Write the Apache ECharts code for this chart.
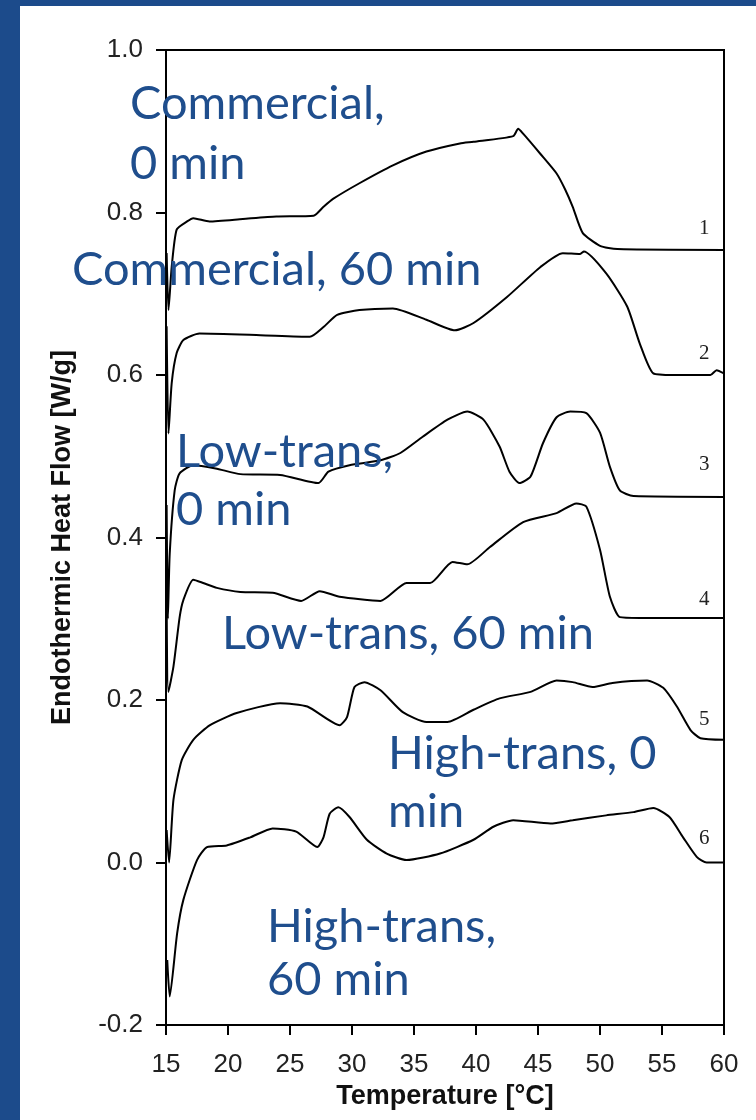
<!DOCTYPE html>
<html><head><meta charset="utf-8">
<script src="https://cdn.jsdelivr.net/npm/echarts@6/dist/echarts.min.js"></script>
<style>html,body{margin:0;padding:0;background:#fff}#c{width:756px;height:1120px}</style>
</head><body><div id="c"></div><script>
// Temperature (°C) and heat flow (W/g) for each curve
const t1 = [15.05, 15.2, 15.46, 15.86, 16.7, 17.2, 18.5, 21.2, 23.9, 26.9, 27.7, 28.5, 30.6, 33.3, 36.0, 38.7, 39.8, 43.0, 43.4, 43.8, 45.2, 46.5, 47.2, 47.8, 48.6, 50.0, 51.4, 60];
const v1 = [0.75, 0.68, 0.733, 0.779, 0.789, 0.793, 0.789, 0.792, 0.795, 0.796, 0.807, 0.817, 0.836, 0.858, 0.875, 0.885, 0.887, 0.894, 0.903, 0.897, 0.872, 0.848, 0.828, 0.807, 0.775, 0.759, 0.755, 0.754];
const t2 = [15.05, 15.2, 15.46, 15.86, 16.4, 17.7, 22.6, 26.6, 27.7, 28.8, 30.6, 33.3, 36.0, 38.3, 39.8, 42.5, 45.2, 47.0, 48.4, 48.7, 50.5, 52.2, 53.2, 54.3, 55.9, 58.9, 59.4, 60];
const v2 = [0.66, 0.528, 0.59, 0.627, 0.643, 0.651, 0.649, 0.647, 0.659, 0.674, 0.680, 0.682, 0.668, 0.655, 0.664, 0.696, 0.733, 0.750, 0.749, 0.752, 0.725, 0.684, 0.639, 0.602, 0.600, 0.600, 0.606, 0.602];
const t3 = [15.05, 15.15, 15.3, 15.7, 16.1, 17.2, 19.0, 21.0, 24.2, 27.3, 28.1, 29.8, 32.3, 33.9, 35.7, 37.7, 39.3, 40.6, 41.9, 42.7, 43.5, 44.4, 45.4, 46.5, 47.6, 48.9, 50.0, 50.8, 51.6, 52.7, 60];
const v3 = [0.44, 0.30, 0.38, 0.458, 0.479, 0.489, 0.485, 0.478, 0.477, 0.467, 0.481, 0.489, 0.495, 0.504, 0.524, 0.545, 0.555, 0.545, 0.512, 0.481, 0.467, 0.475, 0.516, 0.548, 0.555, 0.553, 0.529, 0.487, 0.458, 0.451, 0.450];
const t4 = [15.05, 15.19, 15.6, 16.1, 16.4, 17.2, 18.0, 19.1, 21.0, 23.6, 25.9, 27.4, 29.0, 32.3, 34.4, 36.3, 38.1, 39.3, 41.1, 43.8, 46.5, 48.1, 48.9, 50.0, 50.8, 51.6, 53.2, 60];
const v4 = [0.32, 0.21, 0.241, 0.302, 0.323, 0.348, 0.344, 0.338, 0.333, 0.332, 0.322, 0.334, 0.327, 0.322, 0.344, 0.344, 0.370, 0.367, 0.388, 0.419, 0.430, 0.442, 0.438, 0.385, 0.327, 0.302, 0.301, 0.301];
const t5 = [15.05, 15.25, 15.6, 16.27, 17.2, 18.55, 20.7, 24.2, 26.4, 29.0, 29.6, 30.2, 31.0, 32.3, 34.1, 36.0, 37.7, 39.8, 41.9, 44.4, 46.5, 47.8, 49.4, 51.0, 53.8, 55.1, 56.2, 57.3, 58.1, 60];
const v5 = [0.04, 0.0, 0.077, 0.126, 0.151, 0.169, 0.184, 0.196, 0.192, 0.169, 0.179, 0.216, 0.222, 0.212, 0.185, 0.173, 0.173, 0.188, 0.202, 0.210, 0.224, 0.222, 0.216, 0.221, 0.224, 0.215, 0.192, 0.163, 0.153, 0.151];
const t6 = [15.1, 15.3, 15.9, 16.4, 17.5, 18.3, 19.9, 21.8, 23.6, 25.5, 27.2, 27.7, 28.2, 28.9, 29.8, 31.2, 32.8, 34.4, 37.1, 39.8, 41.4, 43.0, 46.0, 47.8, 50.5, 52.7, 54.3, 55.6, 56.7, 57.8, 58.6, 60];
const v6 = [-0.12, -0.165, -0.087, -0.046, 0.003, 0.019, 0.021, 0.031, 0.042, 0.038, 0.019, 0.031, 0.060, 0.068, 0.056, 0.028, 0.011, 0.003, 0.011, 0.028, 0.044, 0.052, 0.048, 0.052, 0.058, 0.062, 0.067, 0.056, 0.031, 0.007, 0.0, 0.0];

const curveLabels = ['1', '2', '3', '4', '5', '6'];
const xTicks = [15, 20, 25, 30, 35, 40, 45, 50, 55, 60];
const yTicks = [-0.2, 0.0, 0.2, 0.4, 0.6, 0.8, 1.0];
const xTitle = 'Temperature [°C]';
const yTitle = 'Endothermic Heat Flow [W/g]';
const notes = ['Commercial,', '0 min', 'Commercial, 60 min', 'Low-trans,', '0 min', 'Low-trans, 60 min', 'High-trans, 0', 'min', 'High-trans,', '60 min'];

const temps = [t1, t2, t3, t4, t5, t6];
const vals = [v1, v2, v3, v4, v5, v6];
const labelOffsets = [[-33, -21], [-33, -20], [-33, -32], [-33, -18], [-33, -20], [-33, -24]];

const chart = echarts.init(document.getElementById('c'), null, {renderer: 'canvas'});
const blue = '#1f4e8d';
const noteFont = 'Lato';
const noteSize = 47;
const notePos = [[130,127],[130,187],[72,293],[176,475],[176,533],[222,657],[388,777],[388,835],[267,950],[267,1003]];

const series = temps.map((t, i) => ({
  type: 'line',
  name: curveLabels[i],
  data: t.map((x, j) => [x, vals[i][j]]),
  showSymbol: false,
  symbol: 'none',
  smooth: 0.2,
  lineStyle: {color: '#000', width: 2},
  animation: false,
  endLabel: {
    show: true,
    formatter: curveLabels[i],
    fontFamily: 'Liberation Serif',
    fontSize: 21,
    color: '#222',
    offset: labelOffsets[i]
  }
}));

chart.setOption({
  animation: false,
  backgroundColor: '#fff',
  grid: {left: 166, right: 32, top: 50, bottom: 95, show: true, borderColor: '#000', borderWidth: 2, backgroundColor: 'transparent'},
  xAxis: {
    type: 'value', min: xTicks[0], max: xTicks[xTicks.length - 1], interval: 5,
    name: xTitle, nameLocation: 'middle', nameGap: 56,
    nameTextStyle: {fontFamily: 'Liberation Sans', fontWeight: 'bold', fontSize: 27, color: '#111'},
    axisLine: {show: true, onZero: false, lineStyle: {color: '#000', width: 2}},
    axisTick: {show: true, inside: false, length: 10, lineStyle: {color: '#000', width: 2}},
    axisLabel: {fontFamily: 'Liberation Sans', fontSize: 26, color: '#222', margin: 27},
    splitLine: {show: false}
  },
  yAxis: {
    type: 'value', min: yTicks[0], max: yTicks[yTicks.length - 1], interval: 0.2,
    name: yTitle, nameLocation: 'middle', nameGap: 90, nameRotate: 90,
    nameTextStyle: {fontFamily: 'Liberation Sans', fontWeight: 'bold', fontSize: 27, color: '#111'},
    axisLine: {show: true, onZero: false, lineStyle: {color: '#000', width: 2}},
    axisTick: {show: true, inside: false, length: 10, lineStyle: {color: '#000', width: 2}},
    axisLabel: {fontFamily: 'Liberation Sans', fontSize: 26, color: '#222', margin: 23,
      formatter: v => v.toFixed(1)},
    splitLine: {show: false}
  },
  series: series,
  graphic: [
    {type: 'rect', shape: {x: 0, y: 0, width: 756, height: 6}, style: {fill: '#1c4b8b'}, z: 100},
    {type: 'rect', shape: {x: 0, y: 0, width: 20, height: 1120}, style: {fill: '#1c4b8b'}, z: 100}
  ].concat(notes.map((txt, i) => ({
    type: 'text', z: 101,
    style: {text: txt, x: notePos[i][0], y: notePos[i][1], fill: blue,
      fontFamily: noteFont, fontSize: noteSize, verticalAlign: 'bottom', align: 'left'}
  })))
});
</script></body></html>
